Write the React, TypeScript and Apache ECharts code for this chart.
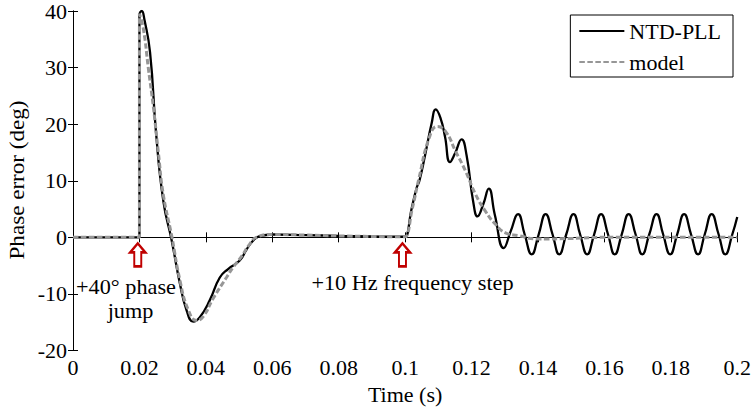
import React, { useEffect, useRef } from "react";
import * as echarts from "echarts";

const FONT = '"Liberation Serif", "Times New Roman", Times, serif';

// NTD-PLL (black solid)
const ntdTime = [
  0, 0.0195, 0.02, 0.02, 0.0207, 0.0215, 0.0232, 0.025, 0.0272, 0.0297, 0.0322, 0.0342, 0.0362, 0.0382,
  0.0412, 0.0442, 0.0467, 0.0502, 0.0522, 0.0542, 0.0562, 0.0602, 0.07, 0.08, 0.09, 0.0995, 0.1,
  0.102, 0.1035, 0.1043, 0.106, 0.108, 0.1092, 0.1107, 0.112, 0.1135, 0.115, 0.117, 0.1185, 0.1205,
  0.1218, 0.1235, 0.1252, 0.127, 0.1297, 0.1318, 0.134, 0.136, 0.1381, 0.1402, 0.1423, 0.1444, 0.1464,
  0.1485, 0.1507, 0.1527, 0.1548, 0.1569, 0.159, 0.1611, 0.1631, 0.1652, 0.1673, 0.1694, 0.1714, 0.1735,
  0.1757, 0.1777, 0.1798, 0.1819, 0.184, 0.1861, 0.1882, 0.1902, 0.1923, 0.1944, 0.1964, 0.1985, 0.2,
];
const ntdError = [
  0, 0, 0, 39.3, 40, 38.5, 32.7, 18.5, 6.4, -0.5, -8.2, -12.9, -14.9, -14.1,
  -11.1, -7.1, -5.6, -4.1, -2.2, -0.6, 0.2, 0.5, 0.4, 0.25, 0.15, 0.1, 0.1,
  5.2, 8.8, 10.0, 14.5, 20.2, 22.6, 21.0, 17.8, 13.3, 14.8, 17.3, 14.5, 6.3,
  3.7, 5.8, 8.6, 4.0, -1.9, 1.1, 4.1, 0.5, -3.0, 0.5, 4.1, 0.5, -3.0,
  0.5, 4.1, 0.5, -3.0, 0.5, 4.1, 0.5, -3.0, 0.5, 4.1, 0.5, -3.0, 0.5,
  4.1, 0.5, -3.0, 0.5, 4.1, 0.5, -3.0, 0.5, 4.1, 0.5, -3.0, 0.5, 3.6,
];

// model (grey dashed)
const modelTime = [
  0, 0.0195, 0.02, 0.02, 0.0212, 0.0227, 0.0242, 0.0257, 0.0272, 0.0297, 0.0322, 0.0347, 0.0372, 0.0392,
  0.0422, 0.0462, 0.0482, 0.0507, 0.0532, 0.0552, 0.0602, 0.07, 0.08, 0.09, 0.0995, 0.1,
  0.1022, 0.1042, 0.1072, 0.1097, 0.1122, 0.1152, 0.1182, 0.1212, 0.1242, 0.1272, 0.1302, 0.1342,
  0.14, 0.15, 0.16, 0.2,
];
const modelError = [
  0, 0, 0, 39.5, 36.8, 29.8, 23.0, 15.0, 7.5, 0.3, -7.6, -12.8, -14.7, -14.0,
  -10.8, -7.1, -5.3, -3.4, -1.2, 0, 0.5, 0.4, 0.25, 0.15, 0.1, 0.1,
  5.2, 10.5, 17.5, 19.6, 18.7, 15.2, 11.7, 7.6, 4.6, 2.3, 0.8, 0.3,
  -0.3, -0.2, 0, 0,
];

const arrowTime = [0.0195, 0.0992];
const arrowError = [-3.1, -3.1];

const annotationTexts = ["+40° phase", "jump", "+10 Hz frequency step"];

const zip = (xs: number[], ys: number[]) => xs.map((x, i) => [x, ys[i]]);

const ARROW = "path://M7.5,0L15,9L11,9L11,23L4,23L4,9L0,9Z";

export default function App() {
  const ref = useRef<HTMLDivElement>(null);
  useEffect(() => {
    document.body.style.margin = "0";
    const chart = echarts.init(ref.current!, undefined, { renderer: "svg" });
    const axisCommon = {
      type: "value" as const,
      axisLine: { show: true, lineStyle: { color: "#000", width: 1 } },
      axisTick: { show: true, inside: true, length: 5, lineStyle: { color: "#000" } },
      splitLine: { show: false },
    };
    const labelStyle = { color: "#000", fontSize: 22, fontFamily: FONT };
    const textStyle = (text: string) => ({
      text,
      fill: "#000",
      fontSize: 21,
      fontFamily: FONT,
      align: "center",
      verticalAlign: "middle",
      textAlign: "center",
      textVerticalAlign: "middle",
    });
    chart.setOption({
      animation: false,
      backgroundColor: "#fff",
      textStyle: { fontFamily: FONT },
      grid: { left: 73, right: 14, top: 8.5, bottom: 60.5, containLabel: false },
      xAxis: [
        {
          ...axisCommon,
          min: 0,
          max: 0.2,
          interval: 0.02,
          position: "bottom",
          axisLabel: {
            ...labelStyle,
            margin: 6,
            formatter: (v: number) => String(+v.toFixed(2)),
          },
          name: "Time (s)",
          nameLocation: "middle",
          nameGap: 29,
          nameTextStyle: labelStyle,
        },
        {
          ...axisCommon,
          min: 0,
          max: 0.2,
          interval: 0.02,
          position: "top",
          axisLabel: { show: false },
        },
      ],
      yAxis: [
        {
          ...axisCommon,
          min: -20,
          max: 40,
          interval: 10,
          position: "left",
          axisLabel: { ...labelStyle, margin: 6 },
        },
        {
          ...axisCommon,
          min: -20,
          max: 40,
          interval: 10,
          position: "right",
          axisLabel: { show: false },
        },
      ],
      legend: {
        right: 21,
        top: 15,
        orient: "vertical",
        itemWidth: 45,
        itemHeight: 14,
        itemGap: 9,
        padding: [5, 12, 4, 8],
        borderColor: "#000",
        borderWidth: 1,
        borderRadius: 0,
        backgroundColor: "#fff",
        itemStyle: { opacity: 0 },
        textStyle: { color: "#000", fontSize: 22, fontFamily: FONT },
        data: ["NTD-PLL", "model"],
      },
      series: [
        {
          name: "NTD-PLL",
          type: "line",
          data: zip(ntdTime, ntdError),
          smooth: true,
          symbol: "none",
          showSymbol: false,
          lineStyle: { color: "#000", width: 2.3 },
          itemStyle: { color: "#000" },
        },
        {
          name: "model",
          type: "line",
          data: zip(modelTime, modelError),
          smooth: true,
          symbol: "none",
          showSymbol: false,
          lineStyle: { color: "#969696", width: 3, type: [5.5, 2.5] },
          itemStyle: { color: "#969696" },
          markPoint: {
            symbol: ARROW,
            symbolSize: [15, 23],
            silent: true,
            label: { show: false },
            itemStyle: { color: "#fff", borderColor: "#c00000", borderWidth: 2.4, opacity: 1 },
            data: arrowTime.map((t, i) => ({ coord: [t, arrowError[i]] })),
          },
        },
      ],
      graphic: [
        {
          type: "text",
          x: 17,
          y: 180,
          rotation: Math.PI / 2,
          scaleX: 1.1,
          style: textStyle("Phase error (deg)"),
        },
        { type: "text", x: 126, y: 287, scaleX: 1.06, style: textStyle(annotationTexts[0]) },
        { type: "text", x: 130.5, y: 311, scaleX: 1.06, style: textStyle(annotationTexts[1]) },
        { type: "text", x: 412.5, y: 283, scaleX: 1.06, style: textStyle(annotationTexts[2]) },
      ],
    });
    return () => chart.dispose();
  }, []);
  return <div ref={ref} style={{ width: 754, height: 411 }} />;
}
